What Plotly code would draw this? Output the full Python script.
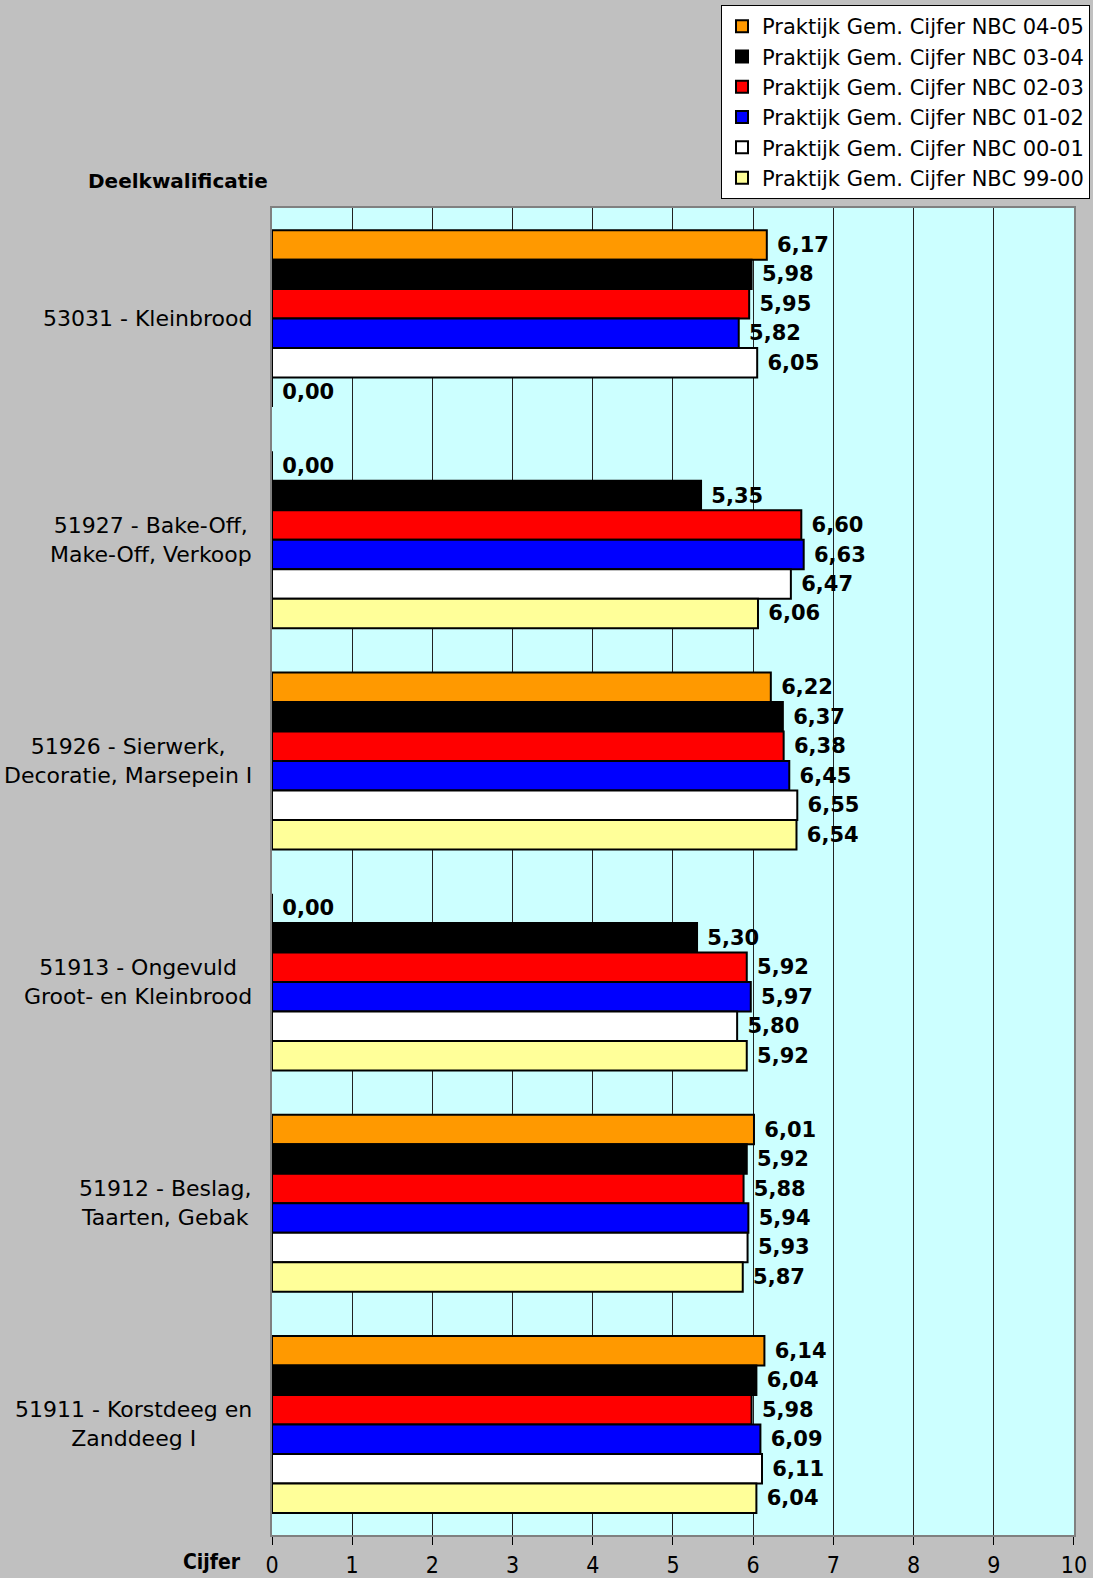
import plotly.graph_objects as go

categories = [
    '53031 - Kleinbrood',
    '51927 - Bake-Off,<br>Make-Off, Verkoop',
    '51926 - Sierwerk,<br>Decoratie, Marsepein I',
    '51913 - Ongevuld<br>Groot- en Kleinbrood',
    '51912 - Beslag,<br>Taarten, Gebak',
    '51911 - Korstdeeg en<br>Zanddeeg I',
]

series_names = [
    'Praktijk Gem. Cijfer NBC 04-05',
    'Praktijk Gem. Cijfer NBC 03-04',
    'Praktijk Gem. Cijfer NBC 02-03',
    'Praktijk Gem. Cijfer NBC 01-02',
    'Praktijk Gem. Cijfer NBC 00-01',
    'Praktijk Gem. Cijfer NBC 99-00',
]

nbc_04_05 = [6.17, 0.00, 6.22, 0.00, 6.01, 6.14]
nbc_03_04 = [5.98, 5.35, 6.37, 5.30, 5.92, 6.04]
nbc_02_03 = [5.95, 6.60, 6.38, 5.92, 5.88, 5.98]
nbc_01_02 = [5.82, 6.63, 6.45, 5.97, 5.94, 6.09]
nbc_00_01 = [6.05, 6.47, 6.55, 5.80, 5.93, 6.11]
nbc_99_00 = [0.00, 6.06, 6.54, 5.92, 5.87, 6.04]

series_values = [nbc_04_05, nbc_03_04, nbc_02_03, nbc_01_02, nbc_00_01, nbc_99_00]
colors = ['#ff9900', '#000000', '#ff0000', '#0000ff', '#ffffff', '#ffff99']

x_ticks = list(range(0, 11))

fig = go.Figure()

for name, vals, col in zip(series_names, series_values, colors):
    fig.add_trace(go.Bar(
        y=categories,
        x=vals,
        name=name,
        orientation='h',
        marker=dict(color=col, line=dict(color='#000000', width=2)),
        texttemplate='\u00a0%{x:.2f}',
        textposition='outside',
        textfont=dict(family='DejaVu Sans', size=21, color='#000000', weight='bold'),
        cliponaxis=False,
    ))

# paper area reaches the legend box; axis domains shrink the plot to the original frame
fig.update_layout(
    width=1093,
    height=1578,
    barmode='group',
    bargap=0.2,
    bargroupgap=0,
    separators=',.',
    paper_bgcolor='#c0c0c0',
    plot_bgcolor='#ccffff',
    margin=dict(l=272, r=3, t=5, b=43),
    font=dict(family='DejaVu Sans', size=20, color='#000000'),
    legend=dict(
        x=1, y=1, xanchor='right', yanchor='top',
        bgcolor='#ffffff', bordercolor='#000000', borderwidth=1,
        font=dict(family='DejaVu Sans', size=21, color='#000000'),
        traceorder='normal',
    ),
    showlegend=True,
)

fig.update_xaxes(
    domain=[0, 0.9804],
    range=[0, 10],
    tickvals=x_ticks,
    ticktext=[str(v) for v in x_ticks],
    automargin=False,
    showgrid=True,
    gridcolor='#222222',
    gridwidth=1,
    zeroline=False,
    showline=True,
    linecolor='#808080',
    linewidth=2,
    mirror=True,
    ticks='outside',
    ticklen=8,
    tickcolor='#000000',
    tickfont=dict(family='DejaVu Sans Condensed', size=23, color='#000000'),
)

fig.update_yaxes(
    domain=[0, 0.8673],
    autorange='reversed',
    automargin=False,
    showline=True,
    linecolor='#808080',
    linewidth=2,
    mirror=True,
    ticks='',
    showticklabels=False,
)

# category labels, centred like the original
for cat in categories:
    fig.add_annotation(
        text=cat, xref='paper', yref='y', x=-0.022, y=cat,
        xanchor='right', yanchor='middle', align='center', showarrow=False,
        font=dict(family='DejaVu Sans', size=22, color='#000000'),
    )

fig.add_annotation(
    text='<b>Deelkwalificatie</b>', xref='paper', yref='paper',
    x=-0.2274, y=0.885, xanchor='left', yanchor='middle', showarrow=False,
    font=dict(family='DejaVu Sans', size=20, color='#000000'),
)
fig.add_annotation(
    text='<b>Cijfer</b>', xref='paper', yref='paper',
    x=-0.0355, y=-0.0177, xanchor='right', yanchor='middle', showarrow=False,
    font=dict(family='DejaVu Sans Condensed', size=21, color='#000000'),
)

fig.write_html(
    'out.html',
    config={'displayModeBar': False},
    post_script="document.body.style.margin='0';",
)
